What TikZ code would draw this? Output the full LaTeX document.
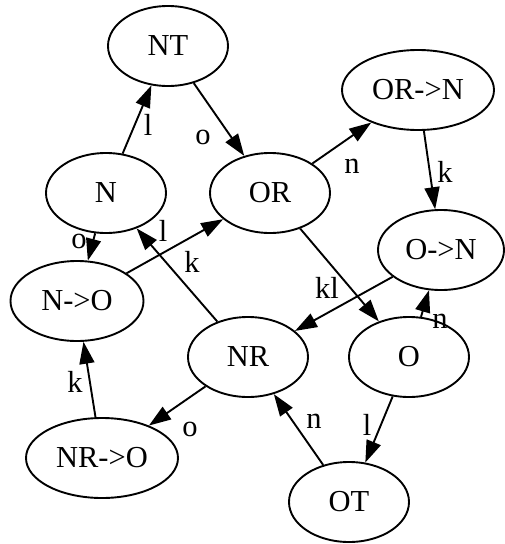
\documentclass[tikz,border=0pt]{standalone}
\usepackage{fontspec}
\setmainfont{Liberation Serif}
\usetikzlibrary{shapes.geometric,arrows.meta}
\tikzset{
  state/.style={draw, ellipse, line width=1.9pt, inner sep=0pt,
    minimum height=80pt, font=\fontsize{30.5}{36}\selectfont},
  edge/.style={line width=1.9pt, -{Triangle[length=22pt,width=15pt]}},
  lbl/.style={anchor=base, inner sep=0pt, font=\fontsize{30.5}{36}\selectfont}
}
\begin{document}
\begin{tikzpicture}[x=1pt,y=-1pt]
\useasboundingbox (0,0) rectangle (505,544);
% states
\node[state, minimum width=120pt] (NT)  at (168,46)  {NT};
\node[state, minimum width=120pt] (N)   at (106,193) {N};
\node[state, minimum width=120pt] (OR)  at (270,193) {OR};
\node[state, minimum width=152pt] (ORN) at (418,90)  {OR->N};
\node[state, minimum width=126pt] (ON)  at (441,250) {O->N};
\node[state, minimum width=133pt] (NO)  at (77,301)  {N->O};
\node[state, minimum width=120pt] (NR)  at (248,357) {NR};
\node[state, minimum width=120pt] (O)   at (409,357) {O};
\node[state, minimum width=152pt] (NRO) at (102,458) {NR->O};
\node[state, minimum width=120pt] (OT)  at (349,502) {OT};
% transitions
\draw[edge] (N)   -- (NT);
\draw[edge] (NT)  -- (OR);
\draw[edge] (OR)  -- (ORN);
\draw[edge] (ORN) -- (ON);
\draw[edge] (N)   -- (NO);
\draw[edge] (NO)  -- (OR);
\draw[edge] (NR)  -- (N);
\draw[edge] (OR)  -- (O);
\draw[edge] (ON)  -- (NR);
\draw[edge] (O)   -- (ON);
\draw[edge] (NR)  -- (NRO);
\draw[edge] (NRO) -- (NO);
\draw[edge] (OT)  -- (NR);
\draw[edge] (O)   -- (OT);
% transition labels
\node[lbl] (l1)  at (148,135) {l};
\node[lbl] (l2)  at (203,144) {o};
\node[lbl] (l3)  at (352,173) {n};
\node[lbl] (l4)  at (445,182) {k};
\node[lbl] (l5)  at (79,248)  {o};
\node[lbl] (l6)  at (163,241) {l};
\node[lbl] (l7)  at (192,272) {k};
\node[lbl] (l8)  at (327,298) {kl};
\node[lbl] (l9)  at (440,328) {n};
\node[lbl] (l10) at (75,392)  {k};
\node[lbl] (l11) at (190,436) {o};
\node[lbl] (l12) at (314,428) {n};
\node[lbl] (l13) at (367,435) {l};
\end{tikzpicture}
\end{document}
